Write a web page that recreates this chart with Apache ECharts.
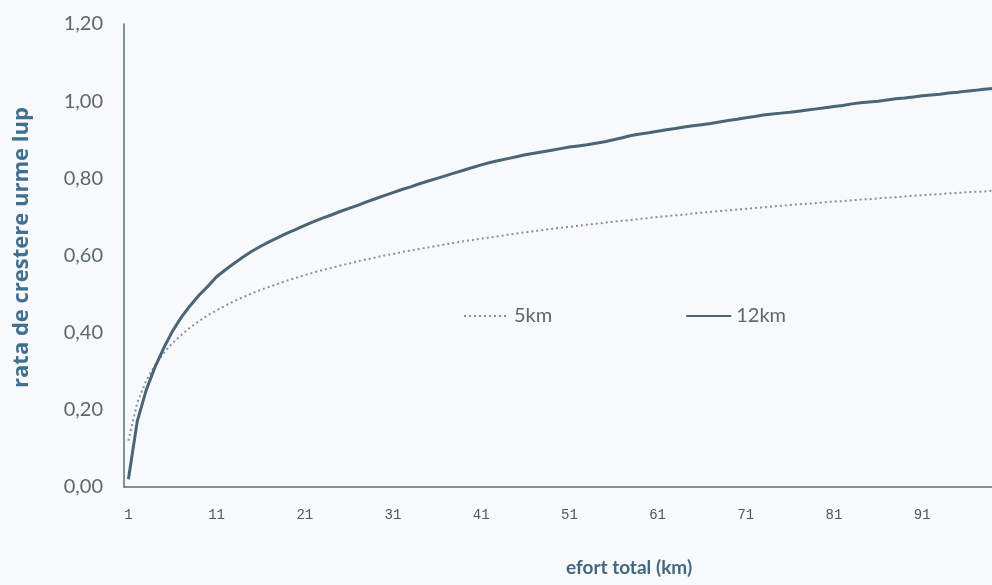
<!DOCTYPE html>
<html>
<head>
<meta charset="utf-8">
<script src="https://cdn.jsdelivr.net/npm/echarts@6/dist/echarts.min.js"></script>
<style>
html,body{margin:0;padding:0;background:#f7f9fb;overflow:hidden;width:992px;height:585px;}
#c{width:1010px;height:585px;}
</style>
</head>
<body>
<div id="c"></div>
<script>
const categories = [];
for (let i = 1; i <= 100; i++) categories.push(String(i));

const yTicks = [0, 0.2, 0.4, 0.6, 0.8, 1.0, 1.2];

const series5km = [
0.120,0.218,0.275,0.315,0.347,0.373,0.394,0.413,0.430,0.445,
0.458,0.470,0.482,0.492,0.502,0.511,0.519,0.527,0.535,0.542,
0.549,0.556,0.562,0.568,0.574,0.579,0.585,0.590,0.595,0.600,
0.604,0.609,0.613,0.617,0.621,0.625,0.629,0.633,0.637,0.640,
0.644,0.647,0.650,0.654,0.657,0.660,0.663,0.666,0.669,0.672,
0.674,0.677,0.680,0.682,0.685,0.688,0.690,0.692,0.695,0.697,
0.700,0.702,0.704,0.706,0.709,0.711,0.713,0.715,0.717,0.719,
0.721,0.723,0.725,0.727,0.729,0.731,0.733,0.734,0.736,0.738,
0.740,0.741,0.743,0.745,0.746,0.748,0.750,0.751,0.753,0.755,
0.756,0.758,0.759,0.761,0.762,0.764,0.765,0.766,0.768,0.769
];

const series12km = [
0.020,0.170,0.250,0.310,0.360,0.404,0.440,0.470,0.497,0.520,
0.545,0.563,0.580,0.596,0.611,0.624,0.636,0.647,0.658,0.668,
0.678,0.688,0.697,0.705,0.714,0.722,0.730,0.739,0.747,0.755,
0.763,0.771,0.778,0.786,0.793,0.800,0.807,0.814,0.821,0.828,
0.835,0.841,0.846,0.851,0.856,0.861,0.865,0.869,0.873,0.877,
0.881,0.884,0.887,0.891,0.895,0.900,0.905,0.911,0.915,0.918,
0.922,0.926,0.929,0.933,0.936,0.939,0.942,0.946,0.950,0.953,
0.957,0.960,0.964,0.967,0.969,0.971,0.974,0.977,0.980,0.983,
0.986,0.989,0.993,0.996,0.998,1.000,1.003,1.006,1.008,1.011,
1.014,1.016,1.018,1.021,1.023,1.026,1.028,1.031,1.033,1.035
];

const chart = echarts.init(document.getElementById('c'), null, {renderer:'canvas'});
const font = 'Lato, "Open Sans", sans-serif';
chart.setOption({
  backgroundColor: '#f7f9fb',
  animation: false,
  grid: {left: 124, top: 24, bottom: 98, right: 4, containLabel: false},
  legend: {
    left: 458, top: 301,
    itemWidth: 45, itemHeight: 14, itemGap: 133,
    itemStyle: {opacity: 0},
    textStyle: {fontFamily: font, fontSize: 20, color: '#5d6770'},
    data: ['5km', '12km']
  },
  xAxis: {
    type: 'category',
    data: categories,
    boundaryGap: true,
    axisLine: {lineStyle: {color: '#5f6e78', width: 1.5}},
    axisTick: {show: false},
    axisLabel: {interval: 9, margin: 21, fontFamily: '"Liberation Mono", monospace', fontSize: 14, color: '#4f565c'},
    name: 'efort total (km)',
    nameLocation: 'middle',
    nameGap: 71,
    nameTextStyle: {fontFamily: font, fontWeight: 'bold', fontSize: 19, color: '#41687f', padding: [0,0,0,128]}
  },
  yAxis: {
    type: 'value',
    min: yTicks[0], max: yTicks[yTicks.length-1], interval: 0.2,
    axisLine: {show: true, lineStyle: {color: '#5f6e78', width: 1.5}},
    axisTick: {show: false},
    splitLine: {show: false},
    axisLabel: {margin: 21, fontFamily: font, fontSize: 20, color: '#5d6770',
      formatter: v => v.toFixed(2).replace('.', ',')},
    name: 'rata de crestere urme lup',
    nameLocation: 'middle',
    nameGap: 91,
    nameTextStyle: {fontFamily: '"Open Sans", sans-serif', fontWeight: 'bold', fontSize: 22, color: '#41708e', padding: [0,0,0,16]}
  },
  series: [
    {name: '5km', type: 'line', data: series5km, symbol: 'none', smooth: false,
     lineStyle: {color: '#85919b', width: 2, type: [2, 3]}, itemStyle: {color: '#85919b'}},
    {name: '12km', type: 'line', data: series12km, symbol: 'none', smooth: false,
     lineStyle: {color: '#4b6576', width: 3}, itemStyle: {color: '#4b6576'}}
  ]
});
</script>
</body>
</html>
